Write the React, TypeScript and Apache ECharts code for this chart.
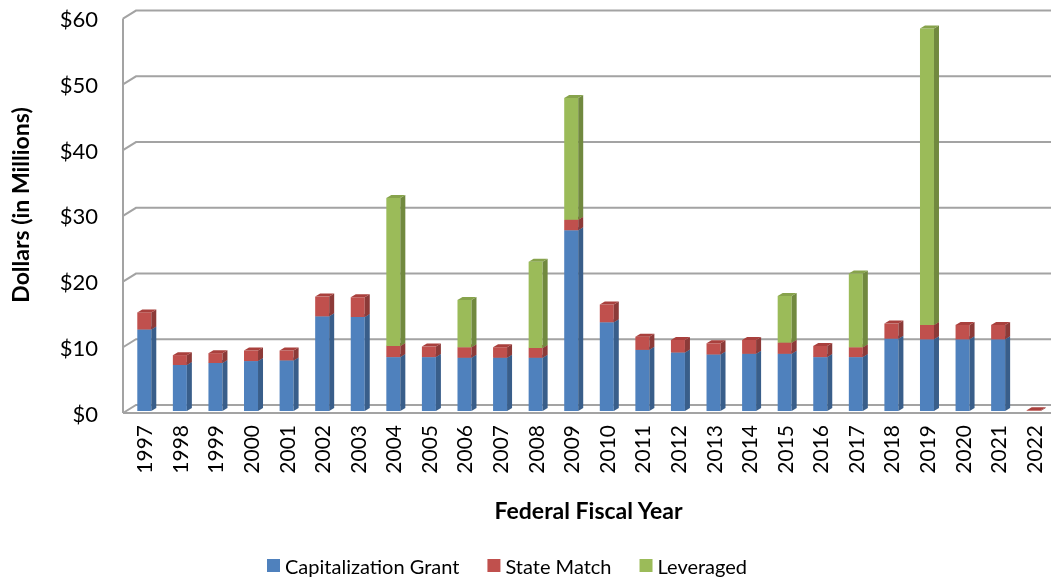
import React, { useEffect, useRef } from "react";
import * as echarts from "echarts";

const years = ["1997","1998","1999","2000","2001","2002","2003","2004","2005","2006","2007","2008","2009","2010","2011","2012","2013","2014","2015","2016","2017","2018","2019","2020","2021","2022"];
const capitalizationGrant = [12.4, 7.0, 7.3, 7.6, 7.7, 14.4, 14.3, 8.2, 8.2, 8.1, 8.1, 8.1, 27.5, 13.5, 9.3, 8.9, 8.6, 8.7, 8.7, 8.2, 8.2, 11.0, 10.9, 10.9, 10.9, 0];
const stateMatch = [2.6, 1.5, 1.5, 1.6, 1.5, 3.0, 3.0, 1.7, 1.6, 1.6, 1.6, 1.5, 1.6, 2.7, 2.0, 1.9, 1.7, 2.1, 1.7, 1.7, 1.5, 2.3, 2.2, 2.2, 2.2, 0.1];
const leveraged = [0, 0, 0, 0, 0, 0, 0, 22.5, 0, 7.2, 0, 13.1, 18.5, 0, 0, 0, 0, 0, 7.1, 0, 11.2, 0, 45.1, 0, 0, 0];
const yTicks = [0, 10, 20, 30, 40, 50, 60];

const seriesNames = ["Capitalization Grant", "State Match", "Leveraged"];
const frontColors = ["#4F81BD", "#C0504D", "#9BBB59"];
const sideColors = ["#395E8A", "#8C3A38", "#71893F"];
const topColors = ["#46729F", "#A9403D", "#87A34C"];

const FONT = "Lato, 'Open Sans', sans-serif";

function makeRender(k: number) {
  return (params: any, api: any) => {
    const i = api.value(0);
    const b = api.value(1);
    const t = api.value(2);
    if (!(t - b > 0)) return null;
    const p0 = api.coord([i, b]);
    const p1 = api.coord([i, t]);
    const cx = p0[0];
    const yb = p0[1] - 2;
    const yt = p1[1] - 2;
    const w = 14, dx = 5, dy = 3;
    const x = cx - 6.5;
    return {
      type: "group",
      children: [
        { type: "rect", shape: { x, y: yt, width: w, height: yb - yt }, style: { fill: frontColors[k] } },
        { type: "polygon", shape: { points: [[x + w, yt], [x + w + dx, yt - dy], [x + w + dx, yb - dy], [x + w, yb]] }, style: { fill: sideColors[k] } },
        { type: "polygon", shape: { points: [[x, yt], [x + dx, yt - dy], [x + w + dx, yt - dy], [x + w, yt]] }, style: { fill: topColors[k] } },
      ],
    };
  };
}

function renderGrid(params: any, api: any) {
  const v = api.value(1);
  const cs = params.coordSys;
  const y = api.coord([0, v])[1];
  const x0 = cs.x - 3;
  const xr = cs.x + cs.width;
  const stroke = { stroke: "#A3A3A3", lineWidth: 2, fill: null };
  const children: any[] = [
    { type: "polyline", shape: { points: [[x0, y], [x0 + 13, y - 8], [xr, y - 8]] }, style: stroke },
  ];
  if (v === 0) {
    children.push({ type: "line", shape: { x1: x0, y1: y, x2: xr, y2: y }, style: stroke });
    const yTop = api.coord([0, yTicks[yTicks.length - 1]])[1];
    children.push({ type: "line", shape: { x1: x0, y1: y, x2: x0, y2: yTop }, style: stroke });
  }
  return { type: "group", children };
}

export default function App() {
  const ref = useRef<HTMLDivElement>(null);
  useEffect(() => {
    if (!ref.current) return;
    const chart = echarts.init(ref.current, undefined, { renderer: "svg" });
    const stacks = [capitalizationGrant, stateMatch, leveraged];
    const base = years.map(() => 0);
    const barSeries = stacks.map((arr, k) => {
      const data = arr.map((v, i) => {
        const b = base[i];
        base[i] = b + v;
        return [i, b, b + v];
      });
      return {
        type: "custom",
        name: seriesNames[k],
        renderItem: makeRender(k),
        itemStyle: { color: frontColors[k] },
        encode: { x: 0, y: [1, 2] },
        data,
        z: 3 + k,
      };
    });
    chart.setOption({
      animation: false,
      textStyle: { fontFamily: FONT },
      grid: { left: 126, right: 0, top: 18.6, bottom: 165 },
      xAxis: {
        type: "category",
        data: years,
        axisLine: { show: false },
        axisTick: { show: false },
        axisLabel: { rotate: 90, fontSize: 21, color: "#000", margin: 12, fontFamily: FONT },
        name: "Federal Fiscal Year",
        nameLocation: "middle",
        nameGap: 85,
        nameTextStyle: { fontSize: 23, fontWeight: "bold", color: "#000", fontFamily: FONT },
      },
      yAxis: {
        type: "value",
        min: 0,
        max: 60,
        interval: 10,
        axisLine: { show: false },
        axisTick: { show: false },
        splitLine: { show: false },
        axisLabel: { formatter: (v: number) => "$" + v, fontSize: 22, color: "#000", margin: 28, fontFamily: FONT },
      },
      legend: {
        data: seriesNames,
        left: 262,
        top: 555,
        padding: [0, 5, 0, 5],
        icon: "rect",
        itemWidth: 13,
        itemHeight: 13,
        itemGap: 28,
        textStyle: { fontSize: 20, lineHeight: 21, color: "#000", fontFamily: FONT },
      },
      graphic: [
        {
          type: "text",
          x: 20,
          y: 205,
          rotation: Math.PI / 2,
          style: {
            text: "Dollars (in Millions)",
            fontSize: 23,
            fontWeight: "bold",
            fill: "#000",
            fontFamily: FONT,
            align: "center",
            verticalAlign: "middle",
          },
        },
      ],
      series: [
        {
          type: "custom",
          name: "grid",
          renderItem: renderGrid,
          encode: { x: 0, y: 1 },
          data: yTicks.map((v) => [0, v]),
          silent: true,
          z: 1,
        },
        ...barSeries,
      ],
    });
    return () => chart.dispose();
  }, []);
  return <div ref={ref} style={{ position: "fixed", left: 0, top: 0, width: 1051, height: 578 }} />;
}
